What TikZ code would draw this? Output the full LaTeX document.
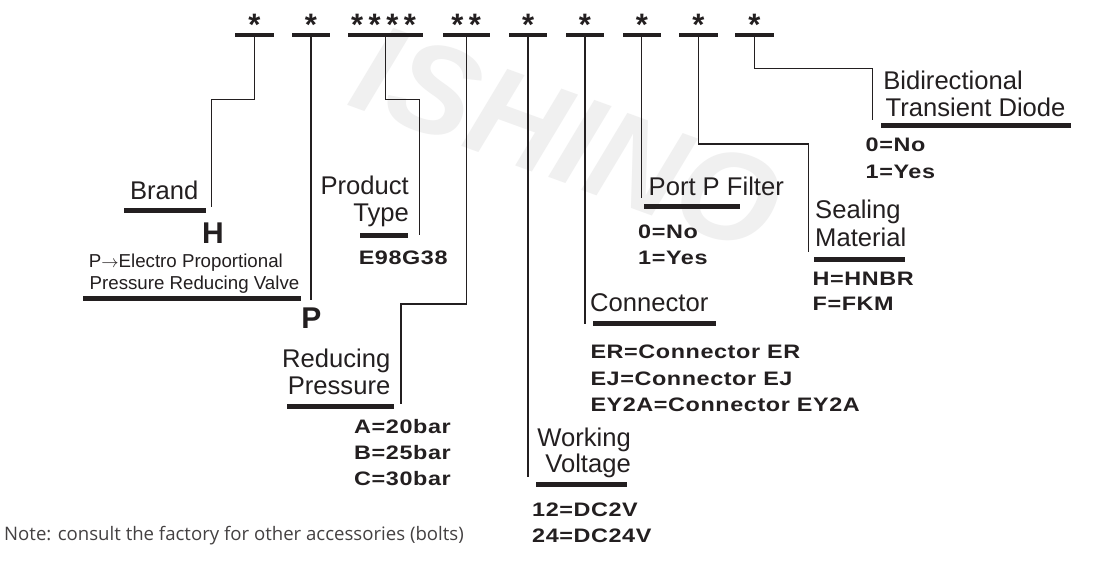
\documentclass[tikz,border=0pt]{standalone}
\usepackage{fontspec}
\setmainfont{Liberation Sans}
\newfontfamily\valfont{Liberation Sans}[FakeStretch=1.2, LetterSpace=3]
\newfontfamily\starfont{Liberation Sans}[LetterSpace=18]
\newfontfamily\notefont{Open Sans}
\definecolor{ink}{HTML}{231F20}
\definecolor{wmgray}{HTML}{F0F0F0}
\tikzset{
  lab/.style={inner sep=0pt, text=ink, font=\fontsize{25.6}{28}\selectfont},
  val/.style={inner sep=0pt, text=ink, font=\valfont\bfseries\fontsize{19.5}{22}\selectfont},
  big/.style={inner sep=0pt, text=ink, font=\bfseries\fontsize{30}{32}\selectfont},
  small/.style={inner sep=0pt, text=ink, font=\fontsize{18.7}{20}\selectfont},
  star/.style={inner sep=0pt, text=ink, font=\starfont\bfseries\fontsize{31}{33}\selectfont, anchor=north},
  topbar/.style={fill=ink, inner sep=0pt, minimum height=4pt},
  ubar/.style={fill=ink, inner sep=0pt, minimum height=5pt},
  conn/.style={draw=ink, line width=1.3pt},
  note/.style={inner sep=0pt, text=ink!85, font=\notefont\fontsize{18.6}{20}\selectfont},
  wm/.style={inner sep=0pt, text=wmgray, font=\bfseries\itshape\fontsize{128}{130}\selectfont, rotate=-20},
}
\begin{document}
\begin{tikzpicture}[x=1pt,y=-1pt]
\fill[white] (0,0) rectangle (1095,568);
\useasboundingbox (0,0) rectangle (1095,568);
% watermark
\node[wm] (wm) at (568,138) {ISHINO};
% top bars
\node[topbar, minimum width=38.5pt] (b1) at (254.5,34.7) {};
\node[topbar, minimum width=38.5pt] (b2) at (311,34.7) {};
\node[topbar, minimum width=75pt] (b3) at (385.8,34.7) {};
\node[topbar, minimum width=47pt] (b4) at (466.2,34.7) {};
\node[topbar, minimum width=38.5pt] (b5) at (528.1,34.7) {};
\node[topbar, minimum width=38.5pt] (b6) at (584.9,34.7) {};
\node[topbar, minimum width=38.5pt] (b7) at (641.8,34.7) {};
\node[topbar, minimum width=38.5pt] (b8) at (698.3,34.7) {};
\node[topbar, minimum width=38.5pt] (b9) at (754.5,34.7) {};
% asterisks
\node[star] (s1) at (254.5,13.5) {*};
\node[star] (s2) at (311,13.5) {*};
\node[star] (s3) at (383.5,13.5) {****};
\node[star] (s4) at (466.2,13.5) {**};
\node[star] (s5) at (528.1,13.5) {*};
\node[star] (s6) at (584.9,13.5) {*};
\node[star] (s7) at (641.8,13.5) {*};
\node[star] (s8) at (698.3,13.5) {*};
\node[star] (s9) at (754.5,13.5) {*};
% connector coordinates
\coordinate (k1) at (211.7,99.3);  \coordinate (e1) at (211.7,206.7);
\coordinate (e2) at (311,300);
\coordinate (k3) at (419.3,99.3);  \coordinate (e3) at (419.3,235);
\coordinate (k4) at (401,304);     \coordinate (e4) at (401,404);
\coordinate (e5) at (528.1,477);
\coordinate (e6) at (584.9,324);
\coordinate (e7) at (641.8,198);
\coordinate (k8) at (808.3,144);   \coordinate (e8) at (808.3,251.7);
\coordinate (k9) at (872.7,68.3);  \coordinate (e9) at (872.7,120);
% connectors
\draw[conn] (b1.south) |- (k1) -- (e1);
\draw[conn] (b2.south) -- (b2.south |- e2);
\draw[conn] (b3.south) |- (k3) -- (e3);
\draw[conn] (b4.south) |- (k4) -- (e4);
\draw[conn] (b5.south) -- (b5.south |- e5);
\draw[conn] (b6.south) -- (b6.south |- e6);
\draw[conn] (b7.south) -- (b7.south |- e7);
\draw[conn] (b8.south) |- (k8) -- (e8);
\draw[conn] (b9.south) |- (k9) -- (e9);
% underlines
\node[ubar, minimum width=81.7pt] (u1) at (164.85,210) {};
\node[ubar, minimum width=218pt] (u2) at (191.7,298.8) {};
\node[ubar, minimum width=48.3pt] (u3) at (384.15,235.5) {};
\node[ubar, minimum width=107.3pt] (u4) at (340.35,406) {};
\node[ubar, minimum width=90.7pt] (u5) at (581.35,484) {};
\node[ubar, minimum width=123.3pt] (u6) at (654.35,323) {};
\node[ubar, minimum width=96pt] (u7) at (692,206) {};
\node[ubar, minimum width=91pt] (u8) at (859.5,259.8) {};
\node[ubar, minimum width=190pt] (u9) at (975.7,125) {};
% Brand
\node[lab, anchor=base west] (brand) at (129.8,199.3) {Brand};
\node[big, anchor=base] (hval) at (213,243.3) {H};
\node[small, anchor=base west] (pdesc1) at (88.7,267.3) {P$\rightarrow$Electro Proportional};
\node[small, anchor=base west] (pdesc2) at (89.5,289) {Pressure Reducing Valve};
\node[big, anchor=base] (pval) at (311.3,328.3) {P};
% Product type
\node[lab, anchor=base east] (prod1) at (409,194) {Product};
\node[lab, anchor=base east] (prod2) at (409,221.7) {Type};
\node[val, anchor=base west] (prodv) at (358.6,264.5) {E98G38};
% Reducing pressure
\node[lab, anchor=base east] (red1) at (390.5,367.3) {Reducing};
\node[lab, anchor=base east] (red2) at (390.5,394) {Pressure};
\node[val, anchor=base west] (reda) at (354,433.3) {A=20bar};
\node[val, anchor=base west] (redb) at (354,459.3) {B=25bar};
\node[val, anchor=base west] (redc) at (354,485) {C=30bar};
% Working voltage
\node[lab, anchor=base east] (volt1) at (631,446.7) {Working};
\node[lab, anchor=base east] (volt2) at (631,472.7) {Voltage};
\node[val, anchor=base west] (volta) at (532,516.7) {12=DC2V};
\node[val, anchor=base west] (voltb) at (532,542) {24=DC24V};
% Connector
\node[lab, anchor=base west] (con) at (590,311.7) {Connector};
\node[val, anchor=base west] (cona) at (590.3,358.3) {ER=Connector ER};
\node[val, anchor=base west] (conb) at (590.3,385) {EJ=Connector EJ};
\node[val, anchor=base west] (conc) at (590.3,411.7) {EY2A=Connector EY2A};
% Port P filter
\node[lab, anchor=base west] (filt) at (648.5,195.7) {Port P Filter};
\node[val, anchor=base west] (filta) at (638,238.3) {0=No};
\node[val, anchor=base west] (filtb) at (638,264) {1=Yes};
% Sealing material
\node[lab, anchor=base west] (seal1) at (815,218.3) {Sealing};
\node[lab, anchor=base west] (seal2) at (815,246.7) {Material};
\node[val, anchor=base west] (seala) at (812.5,285) {H=HNBR};
\node[val, anchor=base west] (sealb) at (812.5,310) {F=FKM};
% Diode
\node[lab, anchor=base west] (diod1) at (883.1,89.3) {Bidirectional};
\node[lab, anchor=base west] (diod2) at (885.5,116.7) {Transient Diode};
\node[val, anchor=base west] (dioda) at (865.5,151.7) {0=No};
\node[val, anchor=base west] (diodb) at (865.5,178.3) {1=Yes};
% note
\node[note, anchor=base west] (note) at (4,540) {Note: consult the factory for other accessories (bolts)};
\end{tikzpicture}
\end{document}
